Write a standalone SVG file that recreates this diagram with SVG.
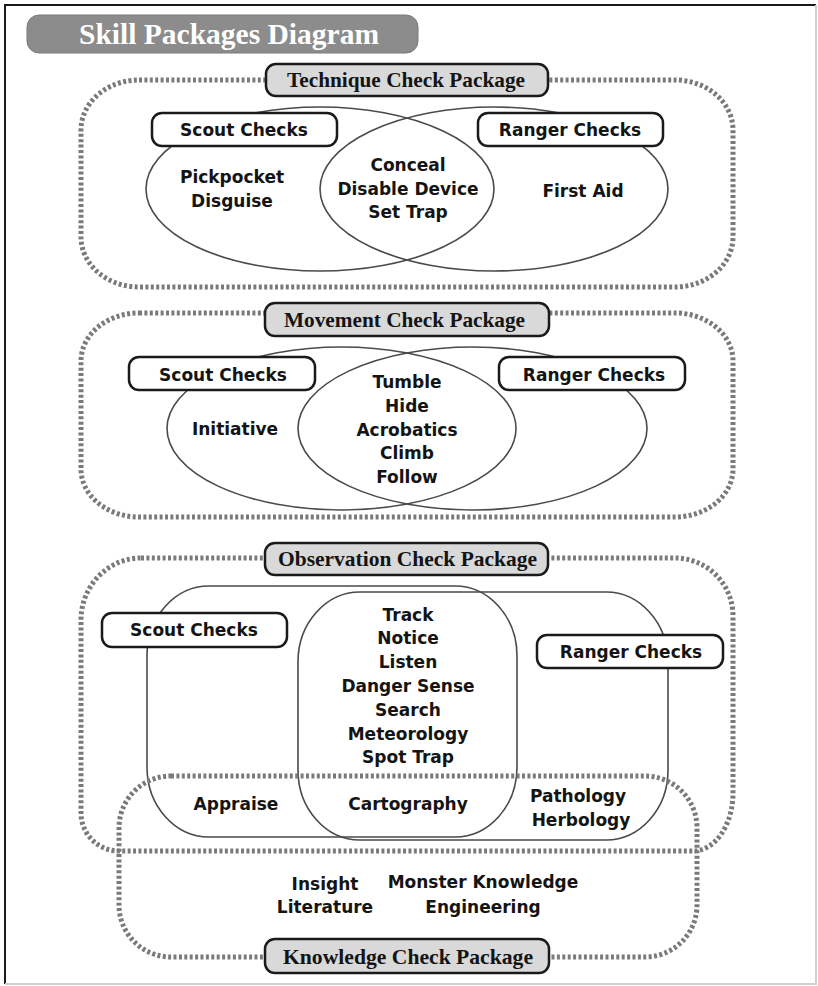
<svg xmlns="http://www.w3.org/2000/svg" width="818" height="986" viewBox="0 0 818 986">
<style>
.dot{fill:none;stroke:#7a7a7a;stroke-width:5;stroke-dasharray:3 2.4}
.ven{fill:none;stroke:#4a4a4a;stroke-width:1.6}
.box{fill:#fff;stroke:#1a1a1a;stroke-width:2.5}
.lab{fill:#d9d9d9;stroke:#1a1a1a;stroke-width:2.5}
.t{font-family:"DejaVu Sans",sans-serif;font-weight:bold;font-size:17px;text-anchor:middle;fill:#141414}
.lt{font-family:"Liberation Serif",serif;font-weight:bold;font-size:22px;fill:#141414}
.title{font-family:"Liberation Serif",serif;font-weight:bold;font-size:29px;fill:#fff}
</style>
<rect x="0" y="0" width="818" height="986" fill="#fff"/>
<path d="M5,984 V5 H816" fill="none" stroke="#1a1a1a" stroke-width="2"/>
<path d="M816,5 V984 H5" fill="none" stroke="#cfcfcf" stroke-width="2"/>

<g id="title">
<rect x="27" y="15" width="391" height="38" rx="12" fill="#8c8c8c" stroke="#7a7a7a" stroke-width="1"/>
<text class="title" x="79" y="44" textLength="300" lengthAdjust="spacingAndGlyphs">Skill Packages Diagram</text>
</g>

<g id="technique">
<rect class="dot" x="81" y="80" width="652" height="207" rx="58" ry="50"/>
<ellipse class="ven" cx="320" cy="189" rx="174" ry="82"/>
<ellipse class="ven" cx="494" cy="189" rx="174" ry="82"/>
<rect class="box" x="152" y="113" width="185" height="33" rx="10"/>
<text class="t" x="244" y="136">Scout Checks</text>
<rect class="box" x="478" y="113" width="185" height="33" rx="10"/>
<text class="t" x="570" y="136">Ranger Checks</text>
<text class="t" x="232" y="183">Pickpocket</text>
<text class="t" x="232" y="207">Disguise</text>
<text class="t" x="408" y="171">Conceal</text>
<text class="t" x="408" y="195">Disable Device</text>
<text class="t" x="408" y="218">Set Trap</text>
<text class="t" x="583" y="197">First Aid</text>
<rect class="lab" x="266" y="64" width="282" height="32" rx="10"/>
<text class="lt" x="287" y="87" textLength="238" lengthAdjust="spacingAndGlyphs">Technique Check Package</text>
</g>

<g id="movement">
<rect class="dot" x="81" y="313" width="652" height="204" rx="58" ry="48"/>
<ellipse class="ven" cx="341.5" cy="428.5" rx="174.5" ry="81.5"/>
<ellipse class="ven" cx="472.5" cy="428.5" rx="174.5" ry="81.5"/>
<rect class="box" x="129" y="357" width="186" height="33" rx="10"/>
<text class="t" x="223" y="381">Scout Checks</text>
<rect class="box" x="499" y="357" width="186" height="33" rx="10"/>
<text class="t" x="594" y="381">Ranger Checks</text>
<text class="t" x="235" y="435">Initiative</text>
<text class="t" x="407" y="388">Tumble</text>
<text class="t" x="407" y="412">Hide</text>
<text class="t" x="407" y="436">Acrobatics</text>
<text class="t" x="407" y="459">Climb</text>
<text class="t" x="407" y="483">Follow</text>
<rect class="lab" x="265" y="303" width="284" height="33" rx="10"/>
<text class="lt" x="284" y="327" textLength="241" lengthAdjust="spacingAndGlyphs">Movement Check Package</text>
</g>

<g id="observation">
<path class="dot" d="M141,558 H675 A58,58 0 0 1 733,616 V793 A40,58 0 0 1 693,851 H119 A38,38 0 0 1 81,813 V620 A60,62 0 0 1 141,558 Z"/>
<rect class="ven" x="147" y="586" width="370" height="251" rx="62" ry="70"/>
<rect class="ven" x="298" y="592" width="370" height="248" rx="62" ry="70"/>
</g>

<g id="knowledge">
<rect class="dot" x="119" y="776" width="578" height="181" rx="52" ry="52"/>
<text class="t" x="325" y="890">Insight</text>
<text class="t" x="325" y="913">Literature</text>
<text class="t" x="483" y="888">Monster Knowledge</text>
<text class="t" x="483" y="913">Engineering</text>
<rect class="lab" x="265" y="939" width="284" height="34" rx="10"/>
<text class="lt" x="283" y="964" textLength="250" lengthAdjust="spacingAndGlyphs">Knowledge Check Package</text>
</g>

<g id="observation-labels">
<rect class="box" x="102" y="613" width="185" height="34" rx="10"/>
<text class="t" x="194" y="636">Scout Checks</text>
<rect class="box" x="537" y="635" width="186" height="33" rx="10"/>
<text class="t" x="631" y="658">Ranger Checks</text>
<text class="t" x="408" y="621">Track</text>
<text class="t" x="408" y="644">Notice</text>
<text class="t" x="408" y="668">Listen</text>
<text class="t" x="408" y="692">Danger Sense</text>
<text class="t" x="408" y="716">Search</text>
<text class="t" x="408" y="740">Meteorology</text>
<text class="t" x="408" y="763">Spot Trap</text>
<text class="t" x="236" y="810">Appraise</text>
<text class="t" x="408" y="810">Cartography</text>
<text class="t" x="578" y="802">Pathology</text>
<text class="t" x="581" y="826">Herbology</text>
<rect class="lab" x="265" y="543" width="283" height="32" rx="10"/>
<text class="lt" x="278" y="566" textLength="259" lengthAdjust="spacingAndGlyphs">Observation Check Package</text>
</g>
</svg>
